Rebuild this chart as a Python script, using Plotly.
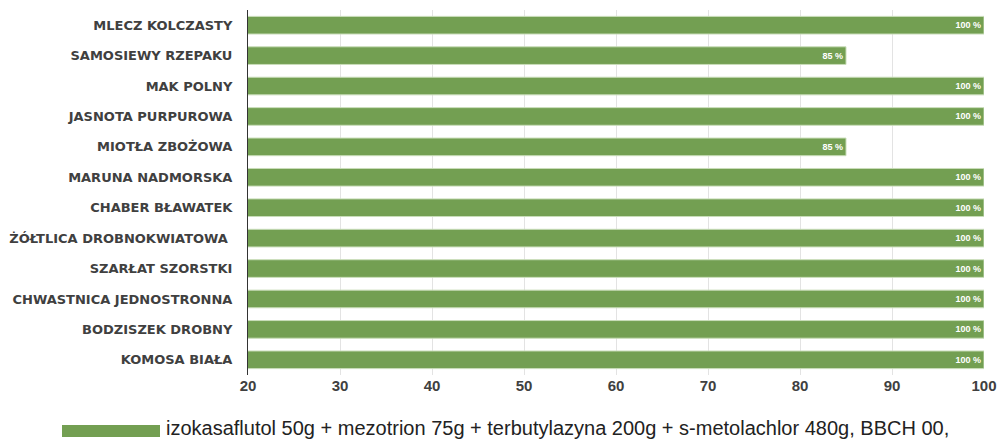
import plotly.graph_objects as go

categories = ["MLECZ KOLCZASTY", "SAMOSIEWY RZEPAKU", "MAK POLNY", "JASNOTA PURPUROWA",
              "MIOTŁA ZBOŻOWA", "MARUNA NADMORSKA", "CHABER BŁAWATEK",
              "ŻÓŁTLICA DROBNOKWIATOWA ", "SZARŁAT SZORSTKI", "CHWASTNICA JEDNOSTRONNA",
              "BODZISZEK DROBNY", "KOMOSA BIAŁA"]
values = [100, 85, 100, 100, 85, 100, 100, 100, 100, 100, 100, 100]
series_name = "izokasaflutol 50g + mezotrion 75g + terbutylazyna 200g + s-metolachlor 480g, BBCH 00,"
tick_vals = [20, 30, 40, 50, 60, 70, 80, 90, 100]

green = "#739F52"
L, R, T, B = 248, 14, 10, 64
W, H = 998, 439
pw, ph = W - L - R, H - T - B

fig = go.Figure()
fig.add_trace(go.Bar(
    y=categories, x=values, orientation="h", name=series_name,
    marker=dict(color=green, line=dict(color="#C9DDB9", width=1)),
    width=0.58,
    text=[f"<b>{v} %</b>" for v in values], textposition="inside", insidetextanchor="end",
    textfont=dict(family="Liberation Sans Narrow, Liberation Sans", size=9, color="white"),
    showlegend=False,
))

fig.update_layout(
    width=W, height=H,
    margin=dict(l=L, r=R, t=T, b=B, autoexpand=False),
    plot_bgcolor="white", paper_bgcolor="white",
    xaxis=dict(range=[20, 100], tickvals=tick_vals, ticktext=[f"<b>{t}</b>" for t in tick_vals],
               showgrid=True, gridcolor="#E3E3E3",
               gridwidth=1, zeroline=False, showline=False, ticks="", automargin=False,
               tickfont=dict(family="Liberation Sans Narrow, Liberation Sans", size=15, color="#404040"),
               ticklabelstandoff=0),
    yaxis=dict(autorange="reversed", showline=True, linecolor="#333333", linewidth=1,
               ticks="", showgrid=False, automargin=False,
               tickvals=categories, ticktext=[f"<b>{c}</b>" for c in categories],
               tickfont=dict(family="DejaVu Sans", size=13, color="#404040"),
               ticklabelstandoff=12),
    font=dict(family="DejaVu Sans"),
)

# legend drawn manually at bottom
fig.add_shape(type="rect", xref="paper", yref="paper",
              x0=(62 - L) / pw, x1=(160 - L) / pw,
              y0=-(437 - (H - B)) / ph, y1=-(425 - (H - B)) / ph,
              fillcolor=green, line=dict(width=0))
fig.add_annotation(xref="paper", yref="paper", x=(164 - L) / pw, y=-(428 - (H - B)) / ph,
                   text=series_name, showarrow=False, xanchor="left", yanchor="middle",
                   font=dict(family="Liberation Sans Narrow, Liberation Sans", size=20, color="#222222"))

fig.write_html("out.html", config={"displayModeBar": False},
               post_script="document.body.style.margin='0';document.body.style.overflow='hidden';")
